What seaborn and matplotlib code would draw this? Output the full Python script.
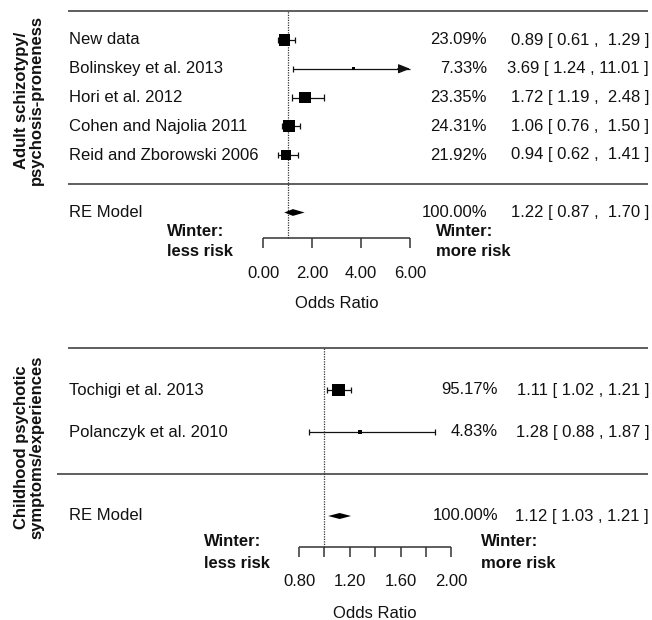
import numpy as np
import pandas as pd
import matplotlib
matplotlib.use("Agg")
import matplotlib.pyplot as plt
import seaborn as sns

# ---------------- data ----------------
a_studies = ["New data", "Bolinskey et al. 2013", "Hori et al. 2012",
             "Cohen and Najolia 2011", "Reid and Zborowski 2006"]
a_weights = [23.09, 7.33, 23.35, 24.31, 21.92]
a_or = [0.89, 3.69, 1.72, 1.06, 0.94]
a_lo = [0.61, 1.24, 1.19, 0.76, 0.62]
a_hi = [1.29, 11.01, 2.48, 1.50, 1.41]
a_re = [1.22, 0.87, 1.70]          # estimate, lower, upper
a_ticks = [0, 2, 4, 6]
a_ticklabels = ["0.00", "2.00", "4.00", "6.00"]
a_group = "Adult schizotypy/\npsychosis-proneness"

b_studies = ["Tochigi et al. 2013", "Polanczyk et al. 2010"]
b_weights = [95.17, 4.83]
b_or = [1.11, 1.28]
b_lo = [1.02, 0.88]
b_hi = [1.21, 1.87]
b_re = [1.12, 1.03, 1.21]
b_ticks = [0.8, 1.0, 1.2, 1.4, 1.6, 1.8, 2.0]
b_ticklabels = ["0.80", "", "1.20", "", "1.60", "", "2.00"]
b_group = "Childhood psychotic\nsymptoms/experiences"

re_label = "RE Model"
winter_left = ["Winter:", "less risk"]
winter_right = ["Winter:", "more risk"]
xlabel = "Odds Ratio"

# ---------------- style ----------------
sns.set_style("white")
plt.rcParams['font.family'] = ['Liberation Sans', 'DejaVu Sans']
TXT = "#111111"
LN = "#333333"
FS = 12

W, H = 652, 620
fig = plt.figure(figsize=(W / 100, H / 100), dpi=100)


def draw_panel(studies, weights, ors, los, his, re, ticks, ticklabels, group, cfg):
    top_px, bot_px = cfg["top_px"], cfg["bot_px"]
    ax = fig.add_axes([0, 1 - bot_px / H, 1, (bot_px - top_px) / H])
    k = len(studies)
    step = cfg["row_step"]
    r0 = cfg["first_row_px"]

    def row_of(py):
        return k - (py - r0) / step

    def x_of(px):
        return cfg["x_val"] + (px - cfg["x_px"]) / cfg["ppu"]

    ax.set_xlim(x_of(0), x_of(W))
    ax.set_ylim(row_of(bot_px), row_of(top_px))
    ax.axis("off")

    xmin, xmax = ticks[0], ticks[-1]
    df = pd.DataFrame({"study": studies, "weight": weights, "or": ors,
                       "lo": los, "hi": his})
    df["row"] = np.arange(k, 0, -1)
    df["hi_c"] = df["hi"].clip(upper=xmax)

    # CI lines and caps
    cap = 3.2 / step
    ax.hlines(df["row"], df["lo"], df["hi_c"], color=TXT, lw=0.9, zorder=2)
    ax.vlines(df["lo"], df["row"] - cap, df["row"] + cap, color=TXT, lw=0.9)
    inside = df[df["hi"] <= xmax]
    ax.vlines(inside["hi"], inside["row"] - cap, inside["row"] + cap, color=TXT, lw=0.9)
    for _, r in df[df["hi"] > xmax].iterrows():
        ax.annotate("", xy=(xmax, r["row"]), xytext=(xmax - 0.5, r["row"]),
                    arrowprops=dict(arrowstyle="-|>,head_length=0.7,head_width=0.28",
                                    color=TXT, lw=0.9, shrinkA=0, shrinkB=0))

    # squares
    sns.scatterplot(data=df, x="or", y="row", size="weight", sizes=cfg["sizes"],
                    size_norm=(min(weights), max(weights)), marker="s",
                    color="black", linewidth=0, legend=False, ax=ax, zorder=3)

    # summary diamond
    est, lo, hi = re
    dh = cfg["dia_h"] / step
    ax.fill([lo, est, hi, est], [-1, -1 + dh, -1, -1 - dh], color="black", lw=0, zorder=3)

    # horizontal rules
    ax.hlines(k + 1, x_of(cfg["hl_left"][0]), x_of(648), color=LN, lw=1.1)
    ax.hlines(0, x_of(cfg["hl_left"][1]), x_of(648), color=LN, lw=1.1)

    # reference line at OR = 1
    axis_row = row_of(cfg["axis_px"])
    ax.vlines(1, axis_row, k + 1, color=LN, lw=0.9, linestyles=(0, (1.0, 1.0)))

    # x axis
    ax.hlines(axis_row, xmin, xmax, color=LN, lw=1.1)
    tick_end = row_of(cfg["axis_px"] + 10)
    ax.vlines(ticks, tick_end, axis_row, color=LN, lw=1.1)
    tl_row = row_of(cfg["ticklabel_px"])
    for t, lab in zip(ticks, ticklabels):
        if lab:
            ax.text(t, tl_row, lab, ha="center", va="center", fontsize=FS, color=TXT)
    ax.text((xmin + xmax) / 2, row_of(cfg["xlabel_px"]), xlabel, ha="center",
            va="center", fontsize=FS, color=TXT)

    # winter labels
    for line, py in zip(winter_left, cfg["winter_y"]):
        ax.text(x_of(cfg["winter_lx"]), row_of(py), line, ha="left", va="center",
                fontsize=FS, fontweight="bold", color=TXT)
    for line, py in zip(winter_right, cfg["winter_y"]):
        ax.text(x_of(cfg["winter_rx"]), row_of(py), line, ha="left", va="center",
                fontsize=FS, fontweight="bold", color=TXT)

    # text columns
    w = max(len(f"{h:.2f}") for h in list(his) + [re[2]])
    wl = max(len(f"{l:.2f}") for l in list(los) + [re[1]])
    lx, px_, ex = x_of(69), x_of(cfg["pct_right"]), x_of(649)
    rows = list(df["row"]) + [-1]
    labels = list(studies) + [re_label]
    pcts = [f"{v:.2f}%" for v in weights] + [f"{sum(weights):.2f}%"]
    ests = [f"{e:.2f} [ {l:>{wl}.2f} , {h:>{w}.2f} ]"
            for e, l, h in zip(list(ors) + [re[0]], list(los) + [re[1]], list(his) + [re[2]])]
    for r, lab, p, e in zip(rows, labels, pcts, ests):
        ax.text(lx, r, lab, ha="left", va="center", fontsize=FS, color=TXT)
        ax.text(px_, r, p, ha="right", va="center", fontsize=FS, color=TXT)
        ax.text(ex, r, e, ha="right", va="center", fontsize=FS, color=TXT)

    # group label
    ax.text(x_of(29), row_of(cfg["group_y"]), group, rotation=90, ha="center",
            va="center", fontsize=FS, fontweight="bold", color=TXT,
            multialignment="center", linespacing=1.0)
    return ax


cfg_a = dict(top_px=0, bot_px=310, x_px=263, x_val=0.0, ppu=24.5,
             first_row_px=40, row_step=28.75, sizes=(5, 70), dia_h=3.4,
             hl_left=(68, 68), axis_px=238, ticklabel_px=273, xlabel_px=303,
             winter_lx=167, winter_rx=436, winter_y=(232, 252),
             pct_right=487, group_y=100)
cfg_b = dict(top_px=310, bot_px=620, x_px=299, x_val=0.8, ppu=127.0,
             first_row_px=390, row_step=42, sizes=(6, 80), dia_h=3.0,
             hl_left=(68, 57), axis_px=547, ticklabel_px=582, xlabel_px=613,
             winter_lx=204, winter_rx=481, winter_y=(542, 563),
             pct_right=498, group_y=447)

draw_panel(a_studies, a_weights, a_or, a_lo, a_hi, a_re, a_ticks, a_ticklabels, a_group, cfg_a)
draw_panel(b_studies, b_weights, b_or, b_lo, b_hi, b_re, b_ticks, b_ticklabels, b_group, cfg_b)

fig.savefig("out.png", dpi=100, facecolor="white")
